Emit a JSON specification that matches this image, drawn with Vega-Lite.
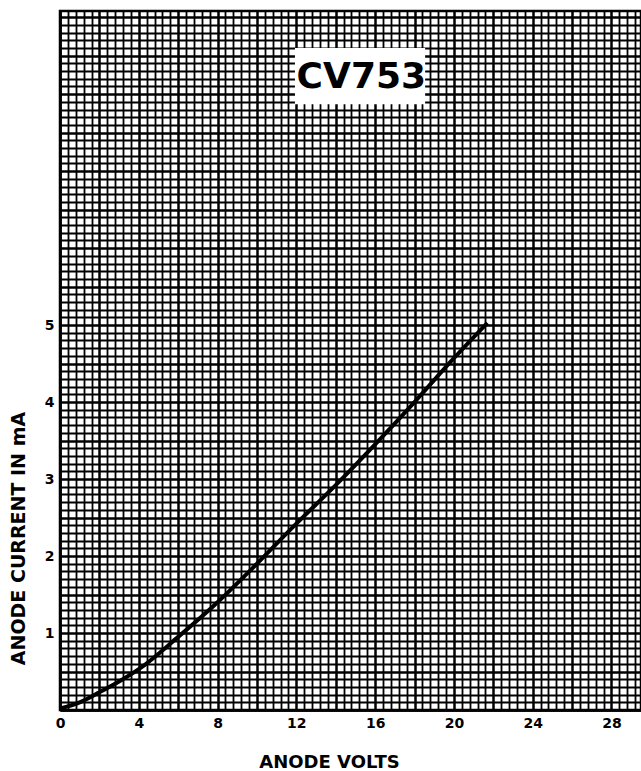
{
  "$schema": "https://vega.github.io/schema/vega-lite/v6.json",
  "autosize": {"type": "none"},
  "padding": {"left": 60, "top": 11, "right": 0, "bottom": 61},
  "width": 581,
  "height": 699,
  "background": "white",
  "config": {
    "view": {"stroke": "black", "strokeWidth": 2.5},
    "font": "DejaVu Sans"
  },
  "datasets": {
    "curve": [
      {"x": 0, "y": 0.02},
      {"x": 1, "y": 0.1},
      {"x": 2, "y": 0.23},
      {"x": 3, "y": 0.37},
      {"x": 4, "y": 0.53},
      {"x": 6, "y": 0.95},
      {"x": 8, "y": 1.4},
      {"x": 10, "y": 1.9},
      {"x": 12, "y": 2.42},
      {"x": 14, "y": 2.92},
      {"x": 16, "y": 3.45},
      {"x": 18, "y": 4.0},
      {"x": 20, "y": 4.57},
      {"x": 21.7, "y": 5.03}
    ],
    "box": [{"x": 11.93, "x2": 18.54, "y": 7.87, "y2": 8.6}],
    "label": [{"text": "CV753", "x": 15.3, "y": 8.22}]
  },
  "encoding": {
    "x": {
      "field": "x", "type": "quantitative",
      "scale": {"domain": [0, 29.5], "nice": false, "zero": false},
      "axis": {
        "values": [0,0.4,0.8,1.2,1.6,2,2.4,2.8,3.2,3.6,4,4.4,4.8,5.2,5.6,6,6.4,6.8,7.2,7.6,8,8.4,8.8,9.2,9.6,10,10.4,10.8,11.2,11.6,12,12.4,12.8,13.2,13.6,14,14.4,14.8,15.2,15.6,16,16.4,16.8,17.2,17.6,18,18.4,18.8,19.2,19.6,20,20.4,20.8,21.2,21.6,22,22.4,22.8,23.2,23.6,24,24.4,24.8,25.2,25.6,26,26.4,26.8,27.2,27.6,28,28.4,28.8,29.2],
        "labelExpr": "indexof([0,4,8,12,16,20,24,28], datum.value) >= 0 ? datum.value : ''",
        "grid": true,
        "gridColor": "black",
        "gridOpacity": 1,
        "gridWidth": {"condition": {"test": "indexof([0,2,4,6,8,10,12,14,16,18,20,22,24,26,28], datum.value) >= 0", "value": 2.5}, "value": 1.8},
        "ticks": false,
        "domain": true,
        "domainColor": "black",
        "domainWidth": 2.5,
        "labelFont": "DejaVu Sans",
        "labelFontWeight": "bold",
        "labelFontSize": 14,
        "labelColor": "black",
        "labelPadding": 6,
        "labelFlush": false,
        "labelOverlap": false,
        "title": "ANODE VOLTS",
        "titleFont": "DejaVu Sans",
        "titleFontWeight": "bold",
        "titleFontSize": 18,
        "titleColor": "black",
        "titleX": 269,
        "titleY": 52,
        "titleBaseline": "middle"
      }
    },
    "y": {
      "field": "y", "type": "quantitative",
      "scale": {"domain": [0, 9.08], "nice": false, "zero": false},
      "axis": {
        "values": [0,0.1,0.2,0.3,0.4,0.5,0.6,0.7,0.8,0.9,1,1.1,1.2,1.3,1.4,1.5,1.6,1.7,1.8,1.9,2,2.1,2.2,2.3,2.4,2.5,2.6,2.7,2.8,2.9,3,3.1,3.2,3.3,3.4,3.5,3.6,3.7,3.8,3.9,4,4.1,4.2,4.3,4.4,4.5,4.6,4.7,4.8,4.9,5,5.1,5.2,5.3,5.4,5.5,5.6,5.7,5.8,5.9,6,6.1,6.2,6.3,6.4,6.5,6.6,6.7,6.8,6.9,7,7.1,7.2,7.3,7.4,7.5,7.6,7.7,7.8,7.9,8,8.1,8.2,8.3,8.4,8.5,8.6,8.7,8.8,8.9,9],
        "labelExpr": "indexof([1,2,3,4,5], datum.value) >= 0 ? datum.value : ''",
        "grid": true,
        "gridColor": "black",
        "gridOpacity": 1,
        "gridWidth": {"condition": {"test": "indexof([0,0.5,1,1.5,2,2.5,3,3.5,4,4.5,5,5.5,6,6.5,7,7.5,8,8.5,9], datum.value) >= 0", "value": 2.5}, "value": 1.8},
        "ticks": false,
        "domain": true,
        "domainColor": "black",
        "domainWidth": 2.5,
        "labelFont": "DejaVu Sans",
        "labelFontWeight": "bold",
        "labelFontSize": 14,
        "labelColor": "black",
        "labelPadding": 6,
        "labelFlush": false,
        "labelOverlap": false,
        "title": "ANODE CURRENT IN mA",
        "titleFont": "DejaVu Sans",
        "titleFontWeight": "bold",
        "titleFontSize": 19,
        "titleColor": "black",
        "titleX": -42,
        "titleY": 527,
        "titleAngle": 270,
        "titleAlign": "center",
        "titleBaseline": "middle"
      }
    }
  },
  "layer": [
    {
      "data": {"name": "box"},
      "mark": {"type": "rect", "fill": "white", "stroke": null},
      "encoding": {
        "x2": {"field": "x2"},
        "y2": {"field": "y2"}
      }
    },
    {
      "data": {"name": "label"},
      "mark": {"type": "text", "font": "DejaVu Sans", "fontWeight": "bold", "fontSize": 36, "color": "black", "align": "center", "baseline": "middle"},
      "encoding": {
        "text": {"field": "text"}
      }
    },
    {
      "data": {"name": "curve"},
      "mark": {"type": "line", "color": "black", "strokeWidth": 4, "interpolate": "monotone"},
      "encoding": {}
    }
  ]
}
